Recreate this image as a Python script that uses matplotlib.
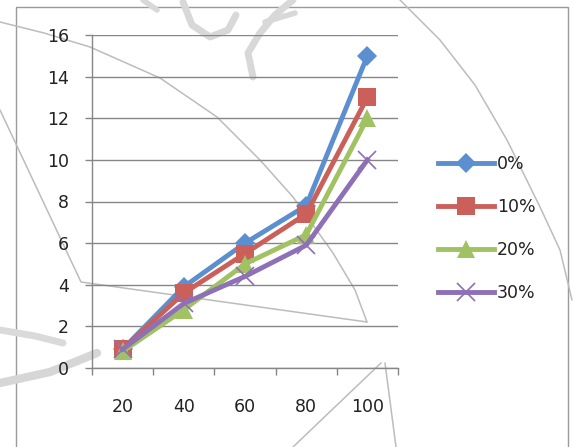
import matplotlib
matplotlib.use("Agg")
import matplotlib.pyplot as plt
from matplotlib.lines import Line2D
from matplotlib.patches import Rectangle

# ---- data ----
categories = ["20", "40", "60", "80", "100"]
series_names = ["0%", "10%", "20%", "30%"]
s0 = [0.9, 3.9, 6.0, 7.8, 15.0]
s10 = [0.9, 3.6, 5.5, 7.4, 13.0]
s20 = [0.8, 2.8, 5.0, 6.4, 12.0]
s30 = [0.9, 3.1, 4.4, 5.9, 10.0]
y_ticks = [0, 2, 4, 6, 8, 10, 12, 14, 16]

colors = ["#5B8FCF", "#CB605B", "#A0C262", "#8E70B6"]
markers = ["D", "s", "^", "x"]
msizes = [10.0, 13, 12.5, 12.5]

W, H = 575, 447
fig = plt.figure(figsize=(W / 100, H / 100), dpi=100)
fig.patch.set_facecolor("white")


def fx(x):
    return x / W


def fy(y):
    return 1 - y / H


# chart area border
fig.add_artist(Rectangle((fx(16), fy(460)), fx(568) - fx(16), fy(7) - fy(460),
                         transform=fig.transFigure, fill=False,
                         edgecolor="#9a9a9a", linewidth=1.0, zorder=-1))

ax = fig.add_axes([fx(92), fy(368), fx(398) - fx(92), fy(35) - fy(368)])
ax.set_facecolor("none")

grid_c = "#868686"
xs = list(range(len(categories)))
for vals, name, c, m, ms in zip([s0, s10, s20, s30], series_names, colors, markers, msizes):
    if m == "x":
        ax.plot(xs, vals, color=c, linewidth=3.5, marker=m, markersize=ms,
                markeredgewidth=1.2, label=name, solid_joinstyle="round", zorder=3)
    else:
        ax.plot(xs, vals, color=c, linewidth=3.5, marker=m, markersize=ms,
                markeredgewidth=0, markerfacecolor=c, label=name,
                solid_joinstyle="round", zorder=3)

ax.set_xlim(-0.5, len(categories) - 0.5)
ax.set_ylim(0, 16)
ax.set_yticks(y_ticks)
ax.set_yticklabels([str(v) for v in y_ticks])
ax.set_xticks(xs)
ax.set_xticklabels(categories)
ax.set_xticks([i - 0.5 for i in range(len(categories) + 1)], minor=True)

ax.yaxis.grid(True, color=grid_c, linewidth=1.0)
ax.set_axisbelow(True)
for side in ("top", "right"):
    ax.spines[side].set_visible(False)
for side in ("left", "bottom"):
    ax.spines[side].set_color(grid_c)
    ax.spines[side].set_linewidth(1.0)

ax.tick_params(axis="y", which="major", direction="out", length=5, width=1,
               color=grid_c, pad=11.5, labelsize=12.5, labelcolor="#222222")
ax.tick_params(axis="x", which="major", length=0, pad=21.5,
               labelsize=12.5, labelcolor="#222222")
ax.tick_params(axis="x", which="minor", direction="out", length=5, width=1,
               color=grid_c)

leg = ax.legend(loc="center left", bbox_to_anchor=(fx(438), fy(228.5)),
                bbox_transform=fig.transFigure, frameon=False, fontsize=12.5,
                handlelength=3.2, handletextpad=0.2, labelspacing=1.45,
                borderpad=0, borderaxespad=0)
for t in leg.get_texts():
    t.set_color("#222222")

# faint background watermark strokes
wm = "#bcbcbc"


def stroke(pts, lw=1.1, color=wm):
    fig.add_artist(Line2D([fx(p[0]) for p in pts], [fy(p[1]) for p in pts],
                          transform=fig.transFigure, color=color, linewidth=lw,
                          solid_capstyle="round", solid_joinstyle="round",
                          zorder=-1))


stroke([(0, 22), (44, 33), (90, 47), (160, 78), (217, 117), (260, 160),
        (293, 197), (333, 253), (355, 290), (367, 322)])
stroke([(0, 110), (81, 282), (367, 322)])
stroke([(400, 0), (440, 40), (475, 85), (507, 140), (540, 207), (560, 250),
        (572, 300)])
stroke([(293, 447), (381, 363)])
stroke([(385, 363), (396, 447)])
# thick smudges
stroke([(0, 383), (50, 372), (97, 353)], lw=6, color="#d6d6d6")
stroke([(0, 330), (35, 336), (63, 343)], lw=5, color="#dadada")
stroke([(183, 2), (192, 25), (210, 37), (228, 30), (236, 15)], lw=5, color="#d8d8d8")
stroke([(293, 0), (275, 15), (260, 33), (248, 53), (253, 77)], lw=5, color="#d8d8d8")
stroke([(265, 22), (295, 13)], lw=4, color="#d8d8d8")
stroke([(143, 0), (157, 10)], lw=4, color="#d8d8d8")

fig.savefig("out.png", dpi=100)
